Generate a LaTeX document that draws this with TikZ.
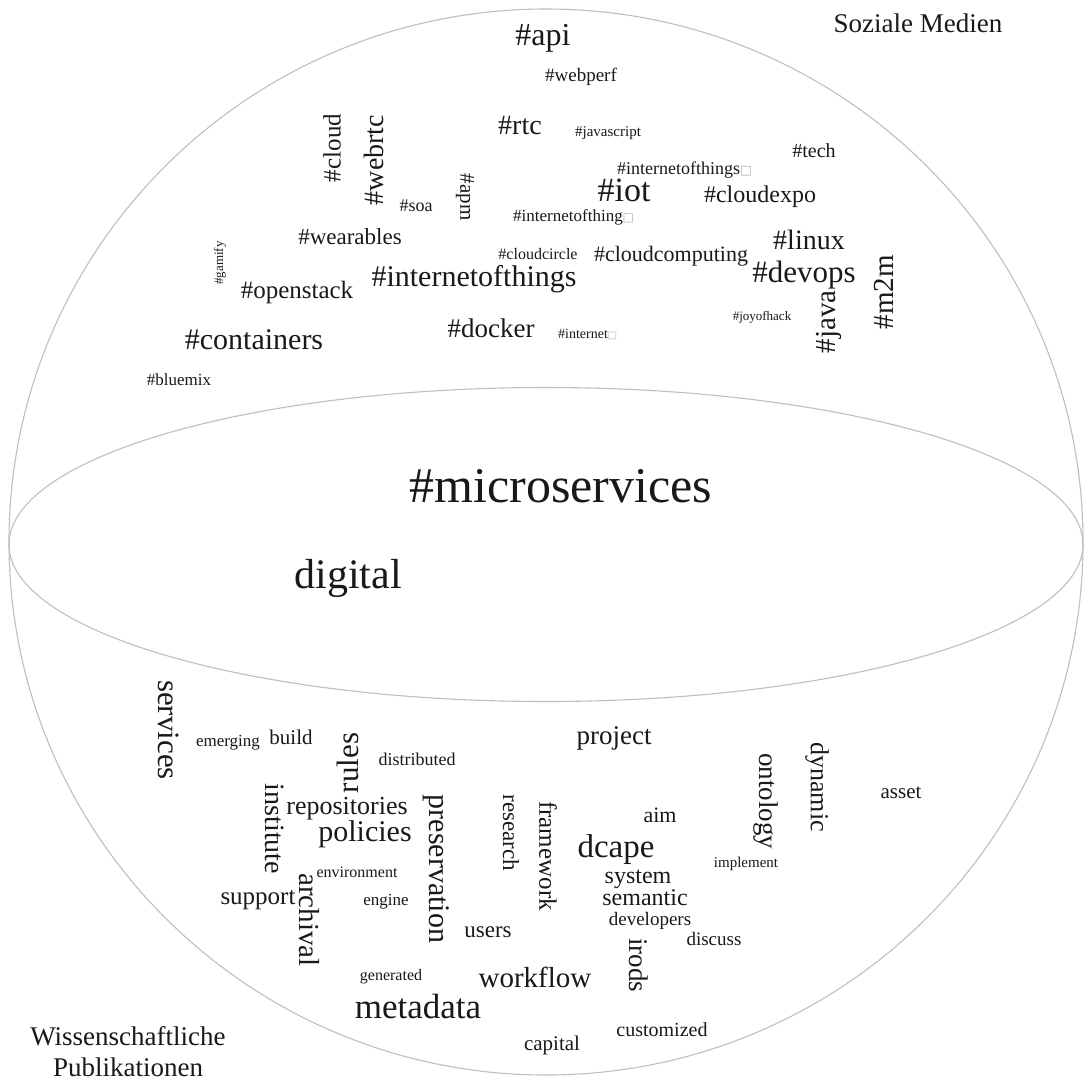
\documentclass[tikz,border=0pt]{standalone}
\usepackage{fontspec}
\setmainfont{Liberation Serif}
\newfontfamily\boxfont{DejaVu Sans}
\newcommand\sq{{\boxfont\color{gray!60}\scalebox{0.7}{□}}}
\begin{document}
\begin{tikzpicture}[x=1pt,y=-1pt]
\tikzset{
  word/.style={inner sep=0pt, text=black!90},
  fs/.style={word, font=\fontsize{#1pt}{#1pt}\selectfont},
  up/.style={rotate=90},
  down/.style={rotate=-90},
  rim/.style={draw=gray!50, line width=1.1pt}
}
\useasboundingbox[fill=white] (0,0) rectangle (1086,1085);
% sphere and equator
\draw[rim] (546,542) ellipse [x radius=537pt, y radius=533pt];
\draw[rim] (546,544.5) ellipse [x radius=537pt, y radius=157pt];

% corner labels
\node[fs=27] (soz) at (918,23) {Soziale Medien};
\node[word, align=center, font=\fontsize{27pt}{31pt}\selectfont] (wiss) at (128,1052) {Wissenschaftliche\\Publikationen};

% centre words
\node[fs=50] (micro) at (561,486) {\#microservices};
\node[fs=42] (digital) at (348,578) {digital};

% social media cloud
\node[fs=32] (api) at (543,38) {\#api};
\node[fs=19] (webperf) at (581,77) {\#webperf};
\node[fs=28] (rtc) at (520,125) {\#rtc};
\node[fs=15] (javascript) at (608,133) {\#javascript};
\node[fs=20] (tech) at (814,151) {\#tech};
\node[fs=18, anchor=west] (iotA) at (617,170) {\#internetofthings\sq};
\node[fs=34] (iot) at (624,190) {\#iot};
\node[fs=24] (cloudexpo) at (760,197) {\#cloudexpo};
\node[fs=17, anchor=west] (iotB) at (513,217) {\#internetofthing\sq};
\node[fs=28] (linux) at (809,240) {\#linux};
\node[fs=16] (cloudcircle) at (538,254) {\#cloudcircle};
\node[fs=22] (cloudcomputing) at (671,256) {\#cloudcomputing};
\node[fs=31] (devops) at (804,275) {\#devops};
\node[fs=30] (iotC) at (474,279) {\#internetofthings};
\node[fs=13] (joyofhack) at (762,317) {\#joyofhack};
\node[fs=29, up] (java) at (829,322) {\#java};
\node[fs=29, up] (m2m) at (884,292) {\#m2m};
\node[fs=14, anchor=west] (internet) at (558,334) {\#internet\sq};
\node[fs=27] (docker) at (491,328) {\#docker};
\node[fs=23] (wearables) at (350,237) {\#wearables};
\node[fs=13, up] (gamify) at (220,263) {\#gamify};
\node[fs=25] (openstack) at (297,292) {\#openstack};
\node[fs=30] (containers) at (254,340) {\#containers};
\node[fs=17] (bluemix) at (179,380) {\#bluemix};
\node[fs=18] (soa) at (416,206) {\#soa};
\node[fs=25, up] (cloud) at (332,148) {\#cloud};
\node[fs=28, up] (webrtc) at (374,160) {\#webrtc};
\node[fs=21, down] (apm) at (465,197) {\#apm};

% scientific publications cloud
\node[fs=31, down] (services) at (169,730) {services};
\node[fs=17] (emerging) at (228,743) {emerging};
\node[fs=21] (build) at (291,737) {build};
\node[fs=31, up] (rules) at (348,763) {rules};
\node[fs=18] (distributed) at (417,759) {distributed};
\node[fs=28, down] (institute) at (275,829) {institute};
\node[fs=26] (repositories) at (347,809) {repositories};
\node[fs=30] (policies) at (365,834) {policies};
\node[fs=30, down] (preservation) at (436,869) {preservation};
\node[fs=23, down] (research) at (511,833) {research};
\node[fs=25, down] (framework) at (548,856) {framework};
\node[fs=16] (environment) at (357,872) {environment};
\node[fs=25] (support) at (258,900) {support};
\node[fs=29, down] (archival) at (309,920) {archival};
\node[fs=17] (engine) at (386,902) {engine};
\node[fs=23] (users) at (488,932) {users};
\node[fs=16] (generated) at (391,977) {generated};
\node[fs=29] (workflow) at (535,977) {workflow};
\node[fs=35] (metadata) at (418,1007) {metadata};
\node[fs=21] (capital) at (552,1045) {capital};
\node[fs=20] (customized) at (662,1030) {customized};
\node[fs=27] (project) at (614,738) {project};
\node[fs=22] (aim) at (660,815) {aim};
\node[fs=33] (dcape) at (616,850) {dcape};
\node[fs=24] (system) at (638,879) {system};
\node[fs=24] (semantic) at (645,898) {semantic};
\node[fs=19] (developers) at (650,921) {developers};
\node[fs=19] (discuss) at (714,939) {discuss};
\node[fs=27, down] (irods) at (639,965) {irods};
\node[fs=15] (implement) at (746,864) {implement};
\node[fs=27, down] (ontology) at (766,801) {ontology};
\node[fs=26, down] (dynamic) at (817,787) {dynamic};
\node[fs=21] (asset) at (901,793) {asset};
\end{tikzpicture}
\end{document}
